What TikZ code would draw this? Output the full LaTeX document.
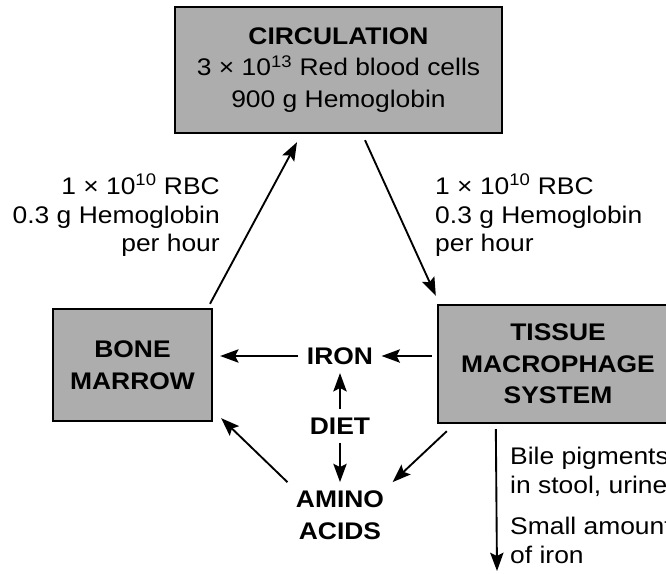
\documentclass[tikz,border=0pt]{standalone}
\usepackage{fontspec}
\setmainfont{Liberation Sans}[FakeStretch=1.1]
\usetikzlibrary{positioning, arrows.meta, calc}

\begin{document}
\begin{tikzpicture}[
        organ/.style={rectangle, draw, line width=2pt, fill=black!32, align=center, font=\bfseries\fontsize{20.5}{27}\selectfont},
        word/.style={align=center, inner sep=0.25cm, font=\bfseries\fontsize{20.5}{27}\selectfont},
        rate/.style={inner sep=0pt, font=\fontsize{20.5}{24.3}\selectfont},
        connection/.style={-{Stealth[length=0.55cm, width=0.4cm, inset=0.1cm]}, line width=1.6pt}
    ]
        \useasboundingbox (0,0) rectangle (19.98,17.19);
        \clip (0,0) rectangle (19.98,17.19);

        % Boxes
        \node[organ, minimum width=9.81cm, minimum height=3.78cm] (circ) at (10.155, 15.09)
            {CIRCULATION\\ {\mdseries 3 × 10\textsuperscript{13} Red blood cells}\\ {\mdseries 900 g Hemoglobin}};
        \node[organ, minimum width=4.77cm, minimum height=3.36cm] (bone) at (3.975, 6.24) {BONE\\ MARROW};
        \node[organ, minimum width=7.2cm, minimum height=3.54cm] (tissue) at (16.74, 6.27) {TISSUE\\ MACROPHAGE\\ SYSTEM};

        % Sources in the middle
        \node[word] (iron) at (10.2, 6.51) {IRON};
        \node[word] (diet) at (10.2, 4.41) {DIET};
        \node[word] (amino) at (10.2, 1.74) {AMINO\\ ACIDS};

        % Rates
        \node[rate, anchor=north east, align=right] (lrate) at (6.6, 11.97)
            {1 × 10\textsuperscript{10} RBC\\ 0.3 g Hemoglobin\\ per hour};
        \node[rate, anchor=north west, align=left] (rrate) at (13.05, 11.97)
            {1 × 10\textsuperscript{10} RBC\\ 0.3 g Hemoglobin\\ per hour};

        % Losses
        \node[rate, anchor=north west, align=left] (bile) at (15.3, 3.78) {Bile pigments\\ in stool, urine};
        \node[rate, anchor=north west, align=left] (small) at (15.3, 1.68) {Small amounts\\ of iron};

        % Red cell cycle
        \draw[connection] ([xshift=2.325cm, yshift=0.12cm]bone.north) -- ([xshift=-1.245cm, yshift=-0.24cm]circ.south);
        \draw[connection] ([xshift=0.795cm, yshift=-0.18cm]circ.south) -- ([xshift=-0.03cm, yshift=0.24cm]tissue.north west);

        % Iron and amino acids back to marrow
        \draw[connection, shorten <=0.15cm] (iron.east -| tissue.west) -- (iron.east);
        \draw[connection, shorten >=0.21cm] (iron.west) -- (iron.west -| bone.east);
        \draw[connection] (diet.north) -- (iron.south);
        \draw[connection] (diet.south) -- (amino.north);
        \draw[connection] (amino.north west) -- ([xshift=0.24cm, yshift=0.12cm]bone.south east);
        \draw[connection] ([xshift=0.3cm, yshift=-0.21cm]tissue.south west) -- (amino.north east);

        % Output
        \coordinate (out) at (14.91, 0.06);
        \draw[connection] ([xshift=1.77cm, yshift=-0.15cm]tissue.south west) -- (out);
    \end{tikzpicture}
\end{document}
